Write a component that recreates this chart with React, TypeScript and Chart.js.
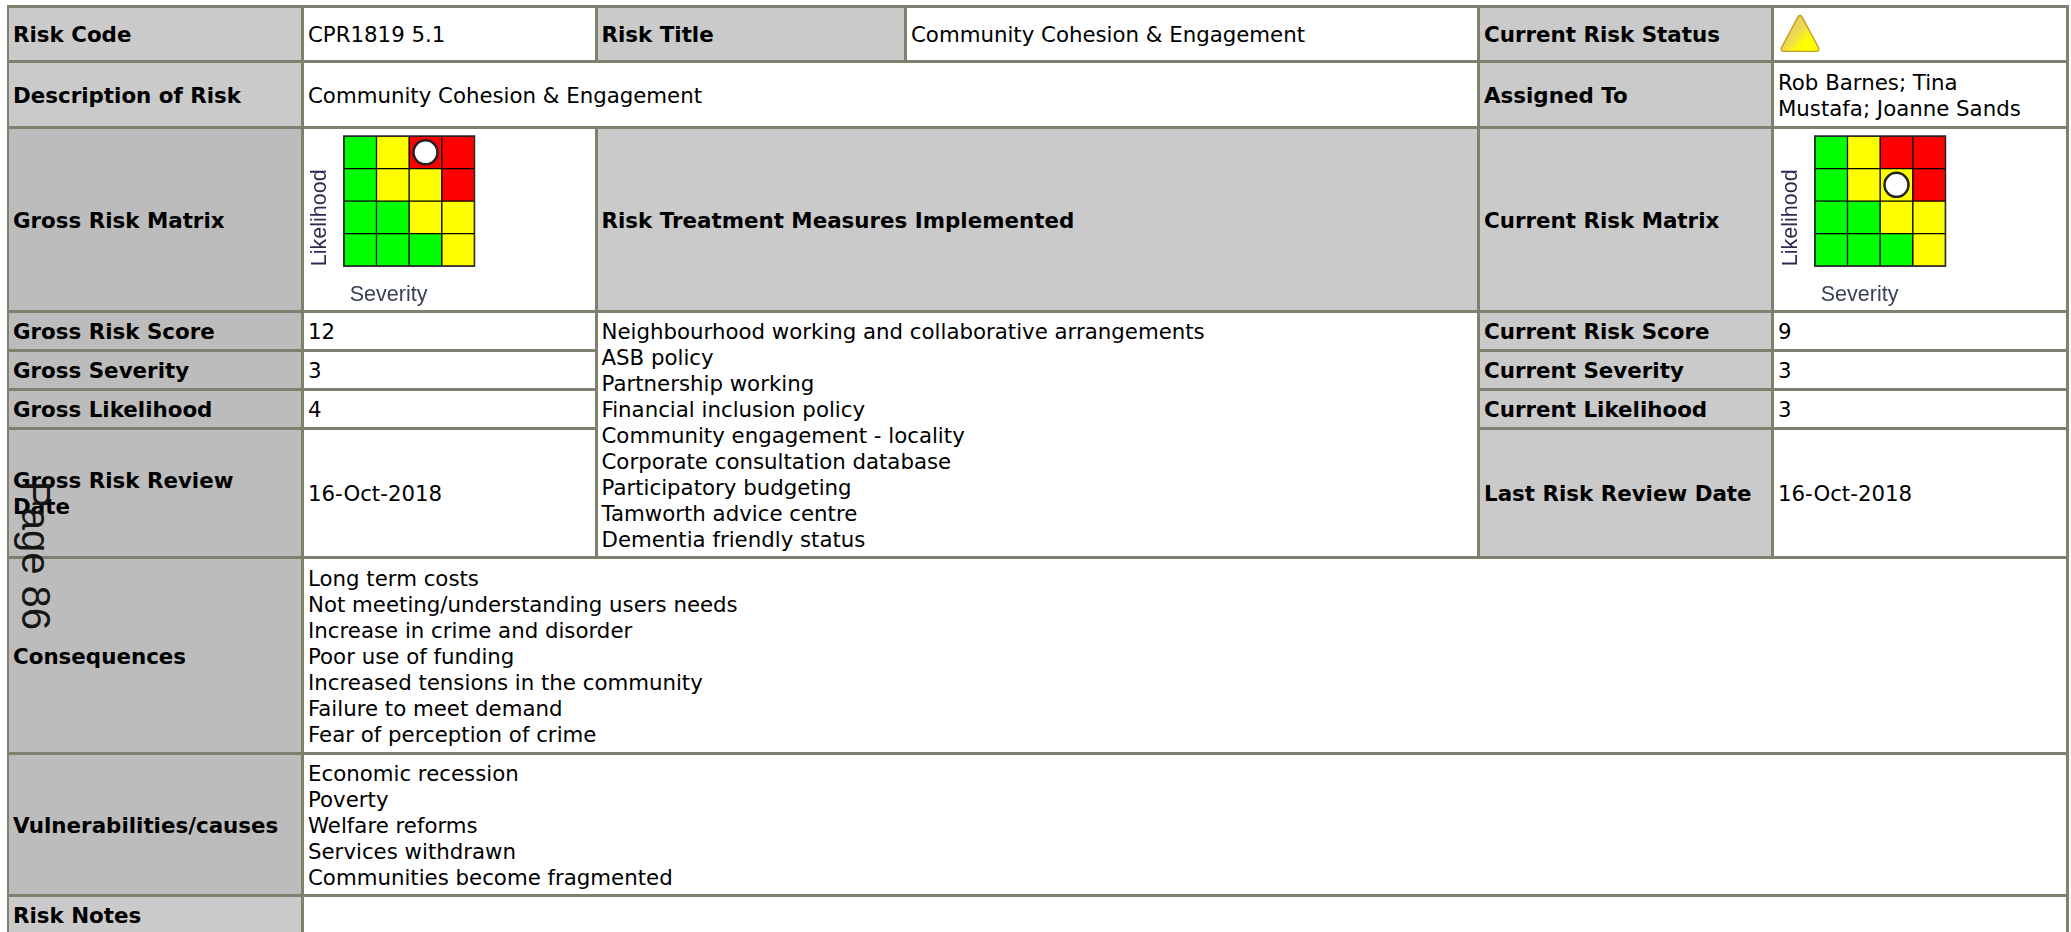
import React, { useEffect, useRef } from "react";
import { Chart, registerables } from "chart.js";

Chart.register(...registerables);

// ---- data ----
const severityLabels = ["1", "2", "3", "4"];
const G = "#00ff00";
const Y = "#ffff00";
const R = "#ff0000";
// colours per likelihood band (1 = bottom row), one entry per severity
const likelihood1Colors = [G, G, G, Y];
const likelihood2Colors = [G, G, Y, Y];
const likelihood3Colors = [G, Y, Y, R];
const likelihood4Colors = [G, Y, R, R];
const bandHeight = [1, 1, 1, 1];
const grossSeverity = 3;
const grossLikelihood = 4;
const grossScore = 12;
const currentSeverity = 3;
const currentLikelihood = 3;
const currentScore = 9;
const reviewDate = "16-Oct-2018";
const treatments = [
  "Neighbourhood working and collaborative arrangements",
  "ASB policy",
  "Partnership working",
  "Financial inclusion policy",
  "Community engagement - locality",
  "Corporate consultation database",
  "Participatory budgeting",
  "Tamworth advice centre",
  "Dementia friendly status",
];
const consequences = [
  "Long term costs",
  "Not meeting/understanding users needs",
  "Increase in crime and disorder",
  "Poor use of funding",
  "Increased tensions in the community",
  "Failure to meet demand",
  "Fear of perception of crime",
];
const vulnerabilities = [
  "Economic recession",
  "Poverty",
  "Welfare reforms",
  "Services withdrawn",
  "Communities become fragmented",
];
const assignees = ["Rob Barnes; Tina", "Mustafa; Joanne Sands"];
const grossReviewLabel = ["Gross Risk Review", "Date"];

// ---- layout ----
const xs = [8, 303, 596.5, 906, 1479, 1773, 2068];
const ys = [6, 61.5, 127, 311, 350, 389, 428, 557, 753, 895, 960];
const LINE = "#80806f";
const LIGHT = "#cacaca";
const DARK = "#bcbcbc";
const FONT = '"DejaVu Sans", Verdana, sans-serif';

function Cell(props: { c: [number, number]; r: [number, number]; bg?: string; bold?: boolean; children?: any }) {
  const { c, r, bg, bold, children } = props;
  const left = xs[c[0]] + 1;
  const top = ys[r[0]] + 1.5;
  const width = xs[c[1]] - xs[c[0]] - 3;
  const height = ys[r[1]] - ys[r[0]] - 3;
  return (
    <div
      style={{
        position: "absolute",
        left,
        top,
        width,
        height,
        boxSizing: "border-box",
        background: bg || "#ffffff",
        padding: "3px 4px 0",
        display: "flex",
        alignItems: "center",
        fontFamily: FONT,
        fontSize: bold ? 21.4 : 21.3,
        lineHeight: "26px",
        fontWeight: bold ? 700 : 400,
        color: "#000",
        whiteSpace: "nowrap",
      }}
    >
      <div>{children}</div>
    </div>
  );
}

function Lines({ items }: { items: string[] }) {
  return (
    <>
      {items.map((t) => (
        <div key={t}>{t}</div>
      ))}
    </>
  );
}

const frame = {
  id: "matrixFrame",
  afterDatasetsDraw(chart: any) {
    const { ctx, chartArea: a } = chart;
    ctx.save();
    ctx.strokeStyle = "#2a2a2a";
    ctx.lineWidth = 1.5;
    ctx.strokeRect(a.left, a.top, a.right - a.left, a.bottom - a.top);
    ctx.restore();
  },
};

function Matrix(props: { left: number; severity: number; likelihood: number }) {
  const ref = useRef<HTMLCanvasElement>(null);
  const { left, severity, likelihood } = props;
  useEffect(() => {
    const bands = [likelihood1Colors, likelihood2Colors, likelihood3Colors, likelihood4Colors];
    const barSets: any[] = bands.map((colors, i) => ({
      type: "bar",
      label: "Likelihood " + (i + 1),
      data: bandHeight,
      backgroundColor: colors,
      borderColor: "#000000",
      borderWidth: 1,
      borderSkipped: false,
      barPercentage: 1,
      categoryPercentage: 1,
      order: 2,
    }));
    const marker: any = {
      type: "line",
      label: "Risk",
      data: severityLabels.map((s) => (Number(s) === severity ? likelihood - 0.5 : null)),
      showLine: false,
      pointRadius: 12,
      pointBackgroundColor: "#ffffff",
      pointBorderColor: "#222222",
      pointBorderWidth: 2.5,
      clip: false,
      order: 1,
    };
    const axisFont = { family: '"Liberation Sans", Arial, sans-serif', size: 21.5 };
    const chart = new Chart(ref.current as HTMLCanvasElement, {
      type: "bar",
      data: { labels: severityLabels, datasets: [...barSets, marker] },
      plugins: [frame],
      options: {
        animation: false,
        responsive: false,
        devicePixelRatio: 1,
        layout: { autoPadding: false, padding: { left: 0, top: 6, right: 119.5, bottom: 0 } },
        plugins: { legend: { display: false }, tooltip: { enabled: false } },
        scales: {
          x: {
            stacked: true,
            grid: { display: false, drawTicks: false },
            border: { display: false },
            ticks: { display: false },
            title: {
              display: true,
              text: "\u00A0Severity",
              align: "start",
              color: "#3a4256",
              font: axisFont,
              padding: { top: 15.5, bottom: 1.5 },
            },
          },
          y: {
            stacked: true,
            min: 0,
            max: 4,
            grid: { display: false, drawTicks: false },
            border: { display: false },
            ticks: { display: false },
            title: {
              display: true,
              text: "Likelihood",
              align: "start",
              color: "#2e2a52",
              font: axisFont,
              padding: { top: 1.5, bottom: 10.5 },
            },
          },
        },
      } as any,
    });
    return () => chart.destroy();
  }, [severity, likelihood]);
  return (
    <canvas
      ref={ref}
      width={288}
      height={179}
      style={{ position: "absolute", left, top: 130, width: 288, height: 179, display: "block" }}
    />
  );
}

export default function App() {
  return (
    <div style={{ position: "fixed", inset: 0, width: 2071, height: 932, overflow: "hidden", background: "#fff" }}>
      <div style={{ position: "absolute", left: 7, top: 5, width: 2062, height: 960, background: LINE }} />
      <Cell c={[0, 1]} r={[0, 1]} bg={LIGHT} bold>Risk Code</Cell>
      <Cell c={[1, 2]} r={[0, 1]}>CPR1819 5.1</Cell>
      <Cell c={[2, 3]} r={[0, 1]} bg={LIGHT} bold>Risk Title</Cell>
      <Cell c={[3, 4]} r={[0, 1]}>Community Cohesion &amp; Engagement</Cell>
      <Cell c={[4, 5]} r={[0, 1]} bg={LIGHT} bold>Current Risk Status</Cell>
      <Cell c={[5, 6]} r={[0, 1]} />

      <Cell c={[0, 1]} r={[1, 2]} bg={LIGHT} bold>Description of Risk</Cell>
      <Cell c={[1, 4]} r={[1, 2]}>Community Cohesion &amp; Engagement</Cell>
      <Cell c={[4, 5]} r={[1, 2]} bg={LIGHT} bold>Assigned To</Cell>
      <Cell c={[5, 6]} r={[1, 2]}><Lines items={assignees} /></Cell>

      <Cell c={[0, 1]} r={[2, 3]} bg={DARK} bold>Gross Risk Matrix</Cell>
      <Cell c={[1, 2]} r={[2, 3]} />
      <Cell c={[2, 4]} r={[2, 3]} bg={LIGHT} bold>Risk Treatment Measures Implemented</Cell>
      <Cell c={[4, 5]} r={[2, 3]} bg={LIGHT} bold>Current Risk Matrix</Cell>
      <Cell c={[5, 6]} r={[2, 3]} />

      <Cell c={[0, 1]} r={[3, 4]} bg={DARK} bold>Gross Risk Score</Cell>
      <Cell c={[1, 2]} r={[3, 4]}>{grossScore}</Cell>
      <Cell c={[0, 1]} r={[4, 5]} bg={DARK} bold>Gross Severity</Cell>
      <Cell c={[1, 2]} r={[4, 5]}>{grossSeverity}</Cell>
      <Cell c={[0, 1]} r={[5, 6]} bg={DARK} bold>Gross Likelihood</Cell>
      <Cell c={[1, 2]} r={[5, 6]}>{grossLikelihood}</Cell>
      <Cell c={[0, 1]} r={[6, 7]} bg={DARK} bold><Lines items={grossReviewLabel} /></Cell>
      <Cell c={[1, 2]} r={[6, 7]}>{reviewDate}</Cell>

      <Cell c={[2, 4]} r={[3, 7]}><Lines items={treatments} /></Cell>

      <Cell c={[4, 5]} r={[3, 4]} bg={LIGHT} bold>Current Risk Score</Cell>
      <Cell c={[5, 6]} r={[3, 4]}>{currentScore}</Cell>
      <Cell c={[4, 5]} r={[4, 5]} bg={LIGHT} bold>Current Severity</Cell>
      <Cell c={[5, 6]} r={[4, 5]}>{currentSeverity}</Cell>
      <Cell c={[4, 5]} r={[5, 6]} bg={LIGHT} bold>Current Likelihood</Cell>
      <Cell c={[5, 6]} r={[5, 6]}>{currentLikelihood}</Cell>
      <Cell c={[4, 5]} r={[6, 7]} bg={LIGHT} bold>Last Risk Review Date</Cell>
      <Cell c={[5, 6]} r={[6, 7]}>{reviewDate}</Cell>

      <Cell c={[0, 1]} r={[7, 8]} bg={DARK} bold>Consequences</Cell>
      <Cell c={[1, 6]} r={[7, 8]}><Lines items={consequences} /></Cell>
      <Cell c={[0, 1]} r={[8, 9]} bg={DARK} bold>Vulnerabilities/causes</Cell>
      <Cell c={[1, 6]} r={[8, 9]}><Lines items={vulnerabilities} /></Cell>
      <div style={{ position: "absolute", left: 9, top: 896.5, width: 292, height: 36, background: LIGHT, padding: "6px 4px", boxSizing: "border-box", fontFamily: FONT, fontSize: 21.4, lineHeight: "26px", fontWeight: 700 }}>Risk Notes</div>
      <div style={{ position: "absolute", left: 304, top: 896.5, width: 1762, height: 36, background: "#fff" }} />

      <Matrix left={306} severity={grossSeverity} likelihood={grossLikelihood} />
      <Matrix left={1777} severity={currentSeverity} likelihood={currentLikelihood} />

      <svg style={{ position: "absolute", left: 1775, top: 11, width: 50, height: 44 }} viewBox="0 0 50 44">
        <defs>
          <linearGradient id="tri" x1="0.1" y1="0.2" x2="0.85" y2="0.85">
            <stop offset="0" stopColor="#e4c860" />
            <stop offset="0.45" stopColor="#eedc50" />
            <stop offset="0.8" stopColor="#ffff00" />
          </linearGradient>
        </defs>
        <polygon points="25,7 8.5,38 41.5,38" fill="url(#tri)" stroke="#c29a24" strokeWidth="6" strokeLinejoin="round" />
        <polygon points="25,7 8.5,38 41.5,38" fill="url(#tri)" stroke="url(#tri)" strokeWidth="3.5" strokeLinejoin="round" />
      </svg>

      <div
        style={{
          position: "absolute",
          left: 13,
          top: 481,
          writingMode: "vertical-rl",
          fontFamily: '"Liberation Sans", Arial, sans-serif',
          fontSize: 40,
          lineHeight: "46px",
          color: "#151515",
          whiteSpace: "nowrap",
        }}
      >
        Page 86
      </div>
    </div>
  );
}
